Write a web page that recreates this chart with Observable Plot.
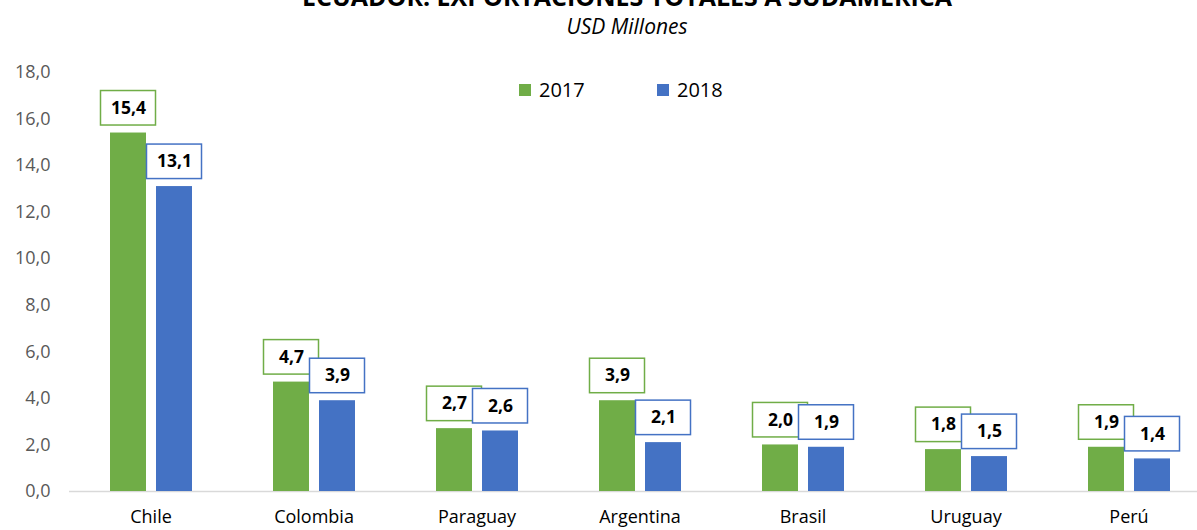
<!DOCTYPE html>
<html>
<head>
<meta charset="utf-8">
<script src="https://cdn.jsdelivr.net/npm/d3@7"></script>
<script src="https://cdn.jsdelivr.net/npm/@observablehq/plot@0.6"></script>
<style>
  html, body { margin: 0; padding: 0; background: #fff; overflow: hidden; }
  #wrap { position: relative; width: 1210px; font-family: "Open Sans", sans-serif; }
  #header { position: relative; height: 50px; }
  .title { position: absolute; left: 627px; top: -16px; transform: translateX(-50%); white-space: nowrap;
           font-size: 25px; line-height: 25px; font-weight: 700; color: #000; }
  .subtitle { position: absolute; left: 627px; top: 15.5px; transform: translateX(-50%); white-space: nowrap;
              font-size: 21px; line-height: 21px; font-style: italic; color: #000; }
  .legend { position: absolute; top: 80px; left: 0; font-size: 20px; line-height: 20px; color: #000; }
  .legend .item { position: absolute; white-space: nowrap; }
  .legend .sw { position: absolute; width: 12px; height: 12px; top: 4px; }
  .legend .lab { position: absolute; top: 0; }
  svg g[aria-label^="y-axis"] text { fill: #595959; font-size: 18px; }
  svg g[aria-label^="fx-axis"] text { fill: #000; font-size: 18px; }
</style>
</head>
<body>
<div id="wrap">
  <div id="header">
    <div class="title">ECUADOR: EXPORTACIONES TOTALES A SUDAMÉRICA</div>
    <div class="subtitle">USD Millones</div>
  </div>
  <div id="chart"></div>
  <div class="legend" id="legend"></div>
</div>
<script>
const countries = ["Chile", "Colombia", "Paraguay", "Argentina", "Brasil", "Uruguay", "Perú"];
const years = ["2017", "2018"];
const values2017 = [15.4, 4.7, 2.7, 3.9, 2.0, 1.8, 1.9];
const values2018 = [13.1, 3.9, 2.6, 2.1, 1.9, 1.5, 1.4];
const colors = ["#70AD47", "#4472C4"];
const yTicks = [0, 2, 4, 6, 8, 10, 12, 14, 16, 18];

const data = [];
countries.forEach((c, i) => {
  data.push({country: c, year: years[0], value: values2017[i]});
  data.push({country: c, year: years[1], value: values2018[i]});
});
const fmt = d => d.toFixed(1).replace(".", ",");

const chart = Plot.plot({
  width: 1210,
  height: 480,
  marginLeft: 69,
  marginRight: 0,
  marginTop: 22,
  marginBottom: 39,
  style: {fontFamily: "Open Sans, sans-serif", fontSize: "17px", background: "#fff", color: "#000"},
  fx: {domain: countries, padding: 0, axis: "bottom", tickSize: 0, tickPadding: 19, label: null},
  x: {domain: years, axis: null, paddingInner: 0.22, paddingOuter: 0.85},
  y: {domain: [0, 18], ticks: yTicks, tickFormat: fmt, tickSize: 0, tickPadding: 19, label: null},
  color: {domain: years, range: colors},
  marks: [
    Plot.ruleY([0], {stroke: "#d9d9d9", strokeWidth: 1.5}),
    Plot.barY(data, {fx: "country", x: "year", y: "value", fill: "year"}),
    Plot.barY(data, {fx: "country", x: "year", y1: "value", y2: "value", fill: "#fff", stroke: "year",
      strokeWidth: 1.5, insetTop: -42, insetBottom: 7.5, insetLeft: -9.5, insetRight: -9.5}),
    Plot.text(data, {fx: "country", x: "year", y: "value", text: d => fmt(d.value), dy: -25,
      fontWeight: "bold", fontSize: 17.5, fill: "#000"})
  ]
});
document.getElementById("chart").appendChild(chart);

const legend = document.getElementById("legend");
const legendPos = [519, 657];
years.forEach((y, i) => {
  const item = document.createElement("div");
  item.className = "item";
  item.style.left = legendPos[i] + "px";
  item.innerHTML = `<span class="sw" style="left:0;background:${colors[i]}"></span><span class="lab" style="left:20px">${y}</span>`;
  legend.appendChild(item);
});
</script>
</body>
</html>
